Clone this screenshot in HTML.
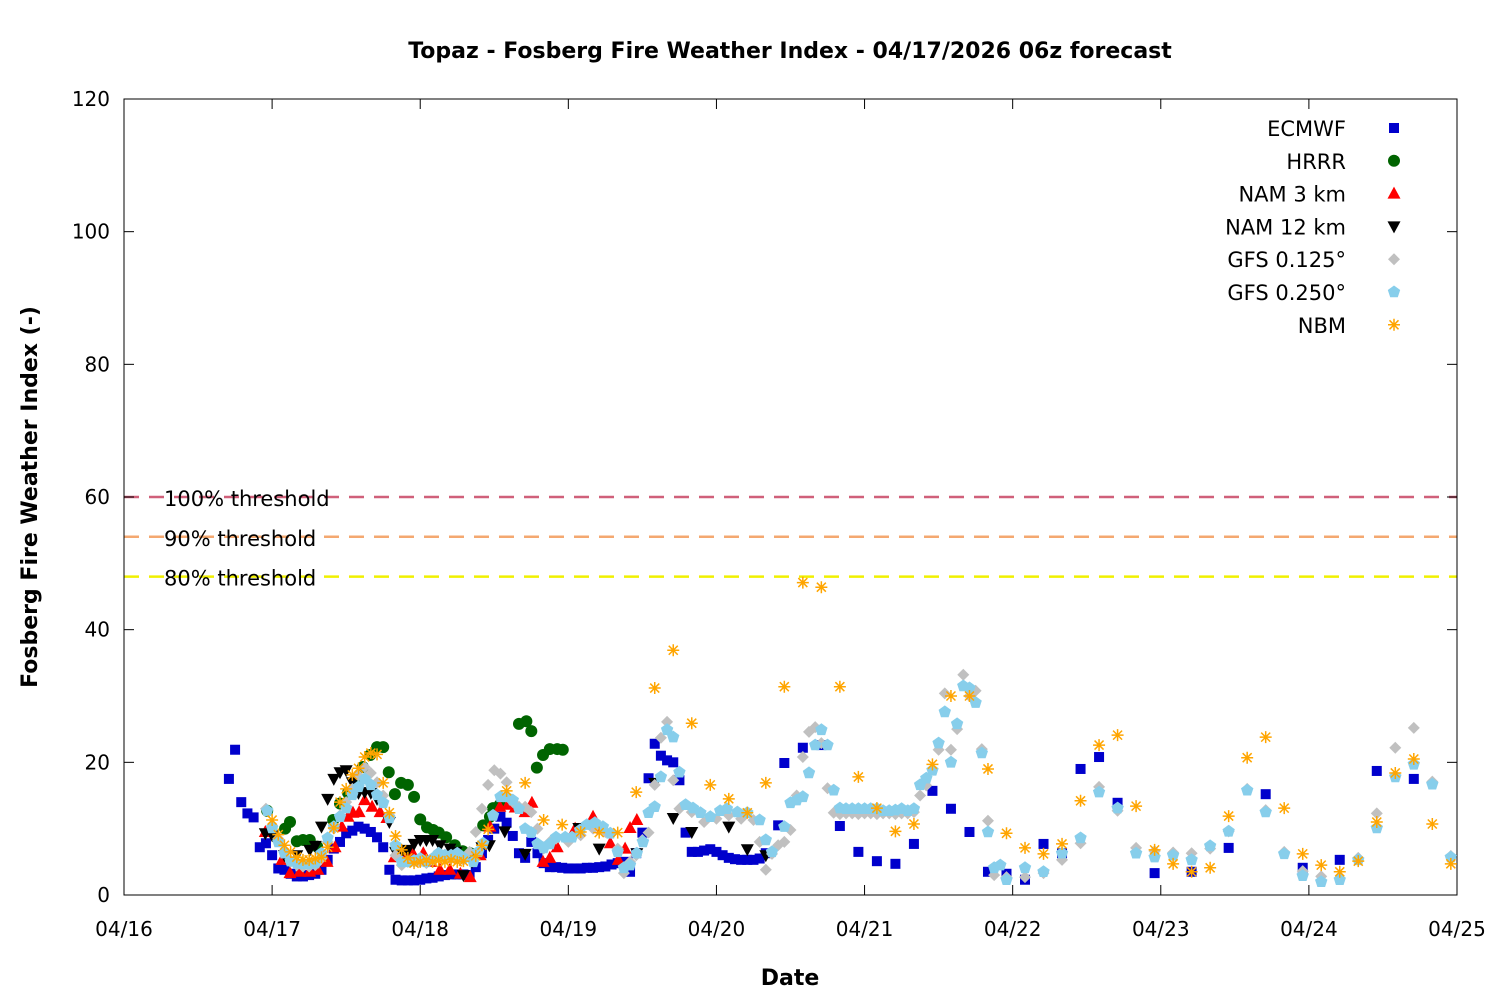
<!DOCTYPE html>
<html><head><meta charset="utf-8"><style>
body{margin:0;background:#fff;}
svg text{font-family:"DejaVu Sans","Liberation Sans",sans-serif;}
</style></head><body>
<svg id="chart" width="1500" height="1000" xmlns="http://www.w3.org/2000/svg">
<rect x="0" y="0" width="1500" height="1000" fill="#fff"/>
<text x="790" y="58" text-anchor="middle" font-size="22" font-weight="bold">Topaz - Fosberg Fire Weather Index - 04/17/2026 06z forecast</text>
<g id="thr"></g>
<g id="axes"></g>
<g id="marks"></g>
<g id="legend"></g>
<text x="790" y="985" text-anchor="middle" font-size="22" font-weight="bold">Date</text>
<text transform="translate(37,497) rotate(-90)" text-anchor="middle" font-size="22" font-weight="bold">Fosberg Fire Weather Index (-)</text>
</svg>
<script>
const xTickLabels=["04/16","04/17","04/18","04/19","04/20","04/21","04/22","04/23","04/24","04/25"];
const yTicks=[0,20,40,60,80,100,120];
const thresholdVals=[60,54,48];
const thresholdLabels=["100% threshold","90% threshold","80% threshold"];
const ecHours=[17,18,19,20,21,22,23,24,25,26,27,28,29,30,31,32,33,34,35,36,37,38,39,40,41,42,43,44,45,46,47,48,49,50,51,52,53,54,55,56,57,58,59,60,61,62,63,64,65,66,67,68,69,70,71,72,73,74,75,76,77,78,79,80,81,82,83,84,85,86,87,88,89,90,91,92,93,94,95,96,97,98,99,100,101,102,103,104,106,107,110,113,116,119,122,125,128,131,134,137,140,143,146,149,152,155,158,161,167,173,179,185,191,197,203,209];
const ecVals=[17.5,21.9,14,12.3,11.7,7.2,7.8,6,4,3.8,3.2,2.8,2.8,3,3.2,3.8,5.3,7,8,9.3,9.7,10.3,10,9.5,8.7,7.2,3.8,2.3,2.2,2.2,2.2,2.3,2.5,2.6,2.8,3,3.1,3.1,3.1,3,4.2,6.3,8.3,10,11.8,10.9,8.9,6.3,5.6,8,6.3,4.8,4.2,4.2,4.1,4,4,4,4.1,4.1,4.2,4.3,4.6,4.8,5,3.5,6.3,9.4,17.6,22.8,21,20.3,20,17.3,9.4,6.5,6.5,6.7,6.9,6.5,6,5.6,5.4,5.3,5.3,5.3,5.5,6.3,10.5,19.9,22.2,22.6,10.4,6.5,5.1,4.7,7.7,15.7,13,9.5,3.5,3.2,2.3,7.7,6.3,19,20.8,13.9,3.3,3.5,7.1,15.2,4.1,5.3,18.7,17.5];
const hrHours=[23.2,26.1,26.9,28,29,30.1,31.3,33.9,35,36.3,37.8,38.7,39.9,41,42,42.9,43.9,44.9,46,47,48,49.1,50.1,51,52.2,53.6,54.9,56.1,58.2,59.3,59.8,60.9,64,65.2,66,66.9,67.9,69,70.2,71.1];
const hrVals=[12.7,10,11,8.1,8.3,8.3,7.3,11.3,13.8,15.4,17,19.3,21.1,22.3,22.3,18.5,15.2,16.9,16.6,14.8,11.4,10.2,9.8,9.4,8.7,7.5,6.6,6.3,10.5,11.8,13.1,13.6,25.8,26.2,24.7,19.2,21.1,22,22,21.9];
const n3Hours=[22.9,25.6,26.9,28.5,30.1,31.4,32.9,34.2,35.3,36.3,37.1,38.1,39,40.2,41.5,42.6,43.8,45.5,46.8,48.5,49.8,51.2,52.8,54.5,56.1,57.7,59.3,60.9,62.2,63.4,65,66.1,67.9,69,70.2,73.1,76,77.5,78.8,80.1,81.2,82,83.1];
const n3Vals=[9.5,5.3,3.3,3.5,3.5,3.8,5,7.2,10.3,11.8,12.4,12.5,14.3,13.3,12.5,11.6,5.7,6,6.3,6.3,5,3.8,3.8,3.2,2.7,6,10.3,13.3,13.6,13.2,12.5,13.9,5,5.6,7.2,10,11.8,10,7.8,5.3,7,10.1,11.3];
const n12Hours=[22.9,24,26,28,30.1,31,32,33,34,35,36,37,38,39,40,41,43,44,45,46,47,48,49,50,51.2,52.8,53.8,55,56.4,58,59.2,61.7,65,73.7,77,83.1,86,89,92,98,101,104];
const n12Vals=[9.3,9,6,6,6.8,7.4,10.3,14.5,17.5,18.5,18.8,17,15.4,15.5,15.4,14.5,11,6.5,6.5,6.8,7.7,8.3,8.3,8.3,7.5,7,6.5,3,5,7.2,7.5,9.6,6.2,10.1,7,6.3,16.9,11.6,9.5,10.3,6.9,6];
const g125Hours=[23,24,25,26,27,28,29,30,31,32,33,34,35,36,37,38,39,40,41,42,43,44,45,46,47,48,49,50,51,52,53,54,55,56,57,58,59,60,61,62,63,64,65,66,67,68,69,70,72,74,76,78,80,81,82,83,84,85,86,87,88,89,90,92,94,96,98,100,102,103,104,105,106,107,108,109,110,111,112,113,114,115,116,117,118,119,120,121,122,123,124,125,126,127,128,129,130,131,132,133,134,135,136,137,138,139,140,141,143,146,149,152,155,158,161,164,167,170,173,176,179,182,185,188,191,194,197,200,203,206,209,212,215];
const g125Vals=[13,10.5,8.5,6.5,5,4.5,4.3,4.3,4.5,5.5,8,10,12,14,16,18,19.3,18.4,17,15,12,6,4.5,5,5,5,4.8,5.2,6,5.8,5.5,5.5,5.3,6.5,9.5,13,16.6,18.8,18.3,17,14,13.3,13.3,12.5,10,7,8,8.5,8,9,10,9.5,7,3.3,5,6,8.3,9.4,16.6,23.7,26.1,17.3,13,12.5,11,11.5,12,11.5,11.3,8,3.8,6.2,7.5,8,9.8,15,20.8,24.6,25.3,22.9,16.1,12.4,12.2,12.3,12.3,12.2,12.3,12.3,12.2,12.3,12.3,12.2,12.3,12.3,12.5,15,16.5,19,21.9,30.4,21.9,25,33.2,30,30.8,22,11.2,3,2.7,2.7,3.3,5.3,7.8,16.3,12.7,7.1,6.6,6.4,6.3,7,9.6,16,12.8,6.5,3.6,2.8,2.5,5.6,12.3,22.2,25.2,17.1,5.9];
const g25Hours=[23.2,24,25,26,27,28,29,30,31,32,33,34,35,36,37,38,39,40,41,42,43,44,45,46,47,48,49,50,51,52,53,54,55,56.6,57.4,58.2,59.8,61,62,63,64,65,66,67,68,69,70,71.5,72.6,73.9,75,76.3,77.6,78.8,80,81,82,83.1,84.1,85,86,87,88,89,90,91,92.2,93.4,95,96.6,97.7,99.4,101,103,104,105,107,108,109,110,111,112,113,114,115,116,117,118,119,120,121,122,123,124,125,126,127,128,129,130,131,132,133,134,135,136,137,138,139,140,141,142,143,146,149,152,155,158,161,164,167,170,173,176,179,182,185,188,191,194,197,200,203,206,209,212,215];
const g25Vals=[12.7,10.1,8,6.3,5.1,4.8,4.7,4.7,4.8,6.3,8.6,10.3,11.8,13.1,15.1,16.3,17.5,16.6,15.1,13.9,11.6,7.5,5,5,5.2,5.5,5,5.5,6.3,6,6,6.3,5.6,5,6.5,7.8,12,14.8,14.8,14.3,13,10,9.4,7.7,7.1,7.7,8.7,8.7,8.7,9.8,10.6,10.9,10.3,9.3,6.5,4.1,4.5,6.3,8,12.4,13.3,17.8,24.9,23.8,18.5,13.6,13.1,12.4,11.8,12.7,13,12.5,12.4,11.3,8.3,6.5,10.3,13.9,14.3,14.8,18.4,22.6,24.9,22.6,15.8,13.1,13,13,13,13,13,13,12.7,12.7,12.8,13,12.7,13,16.6,17.6,18.8,22.9,27.6,20,25.8,31.5,31.2,29,21.4,9.5,4.1,4.5,2.3,4.1,3.5,6.3,8.6,15.5,13.1,6.3,5.7,6,5.3,7.4,9.6,15.8,12.5,6.2,2.9,2,2.3,5.3,10.1,17.8,19.7,16.7,5.7];
const nbmHours=[24,25,26,27,28,29,30,31,32,33,34,35,36,37,38,39,40,41,42,43,44,45,46,47,48,49,50,51,52,53,54,55,57,58,59,62,65,68,71,74,77,80,83,86,89,92,95,98,101,104,107,110,113,116,119,122,125,128,131,134,137,140,143,146,149,152,155,158,161,164,167,170,173,176,179,182,185,188,191,194,197,200,203,206,209,212,215];
const nbmVals=[11.3,9.1,7.5,6.5,5.7,5.3,5.3,5.5,5.7,7.2,10.1,14,16,18.1,19.1,20.8,21.4,21.2,16.9,12.4,8.9,6.8,5.6,4.8,5,5.3,5,5.2,5,5.3,5,5.1,5.9,7.5,9.9,15.7,16.9,11.3,10.6,9.5,9.4,9.4,15.5,31.2,36.9,25.9,16.6,14.5,12.4,16.9,31.4,47.1,46.4,31.4,17.8,13.1,9.6,10.7,19.7,30,30,19,9.3,7.1,6.2,7.7,14.2,22.6,24.1,13.4,6.8,4.7,3.5,4.1,11.9,20.7,23.8,13.1,6.2,4.5,3.5,5.1,11,18.4,20.5,10.7,4.7];

const NS="http://www.w3.org/2000/svg";
const L=124,R=1457,T=99,B=895;
const xs=h=>L+(R-L)*h/216;
const ys=v=>B-(B-T)*v/120;
function mk(tag,attrs,parent){const e=document.createElementNS(NS,tag);for(const k in attrs)e.setAttribute(k,attrs[k]);parent.appendChild(e);return e;}
const axes=document.getElementById('axes');
const frame=mk('rect',{x:L,y:T,width:R-L,height:B-T,fill:'none',stroke:'#000','stroke-width':1},axes);


yTicks.forEach(v=>{
  const y=ys(v);
  const l1=mk('line',{x1:L,x2:L+10,y1:y,y2:y,stroke:'#000'},axes);
  
  
  const l2=mk('line',{x1:R-10,x2:R,y1:y,y2:y,stroke:'#000'},axes);
  
  
  const t=mk('text',{x:L-14,y:y+7,'text-anchor':'end','font-size':20},axes);t.textContent=v;
  
  
});
xTickLabels.forEach((lab,i)=>{
  const x=xs(i*24);
  const l1=mk('line',{x1:x,x2:x,y1:B,y2:B-10,stroke:'#000'},axes);
  
  
  const l2=mk('line',{x1:x,x2:x,y1:T,y2:T+10,stroke:'#000'},axes);
  
  
  const t=mk('text',{x:x,y:B+41,'text-anchor':'middle','font-size':20},axes);t.textContent=lab;
  
  
});
const thrColors=['#d0607a','#f4a870','#f0f000'];
const thr=document.getElementById('thr');
thresholdVals.forEach((v,i)=>{
  const y=ys(v);
  const ln=mk('line',{x1:L,x2:R,y1:y,y2:y,stroke:thrColors[i],'stroke-width':2.5,'stroke-dasharray':'15,10'},thr);
  
  
  const t=mk('text',{x:164,y:y+9,'font-size':21},thr);t.textContent=thresholdLabels[i];
  
  
});
function marker(type,x,y,parent){
  let e;
  if(type==='square')e=mk('rect',{x:x-5,y:y-5,width:10,height:10,fill:'#0000cc'},parent);
  else if(type==='circle')e=mk('circle',{cx:x,cy:y,r:6,fill:'#006400'},parent);
  else if(type==='up')e=mk('polygon',{points:`${x},${y-7} ${x-6.5},${y+5} ${x+6.5},${y+5}`,fill:'#ff0000'},parent);
  else if(type==='down')e=mk('polygon',{points:`${x},${y+7} ${x-6.5},${y-5} ${x+6.5},${y-5}`,fill:'#000'},parent);
  else if(type==='diamond')e=mk('polygon',{points:`${x},${y-6} ${x+6},${y} ${x},${y+6} ${x-6},${y}`,fill:'#c0c0c0'},parent);
  else if(type==='pent'){let p=[];for(let k=0;k<5;k++){const a=-Math.PI/2+k*2*Math.PI/5;p.push((x+6.5*Math.cos(a)).toFixed(1)+','+(y+6.5*Math.sin(a)).toFixed(1));}e=mk('polygon',{points:p.join(' '),fill:'#87ceeb'},parent);}
  else {e=mk('path',{d:`M${x-6},${y}H${x+6}M${x},${y-6}V${y+6}M${x-4.5},${y-4.5}L${x+4.5},${y+4.5}M${x-4.5},${y+4.5}L${x+4.5},${y-4.5}`,stroke:'#ffa500','stroke-width':1.5,fill:'none'},parent);}
  return e;
}
const series=[
 {name:'ECMWF',type:'square',h:ecHours,v:ecVals,id:'ecmwf'},
 {name:'HRRR',type:'circle',h:hrHours,v:hrVals,id:'hrrr'},
 {name:'NAM 3 km',type:'up',h:n3Hours,v:n3Vals,id:'nam-3km'},
 {name:'NAM 12 km',type:'down',h:n12Hours,v:n12Vals,id:'nam-12km'},
 {name:'GFS 0.125°',type:'diamond',h:g125Hours,v:g125Vals,id:'gfs-0125'},
 {name:'GFS 0.250°',type:'pent',h:g25Hours,v:g25Vals,id:'gfs-0250'},
 {name:'NBM',type:'star',h:nbmHours,v:nbmVals,id:'nbm'}
];
const marks=document.getElementById('marks');
const legend=document.getElementById('legend');
series.forEach((s,i)=>{
  const g=mk('g',{},marks);
  
  
  s.h.forEach((h,j)=>{
    const m=marker(s.type,xs(h),ys(s.v[j]),g);
    
    
  });
  const ly=128+i*32.8;
  const lg=mk('g',{},legend);
  
  
  const t=mk('text',{x:1346,y:ly+8,'text-anchor':'end','font-size':21},lg);t.textContent=s.name;
  const lm=marker(s.type,1394,ly,lg);
  
  
});
</script>
</body></html>
